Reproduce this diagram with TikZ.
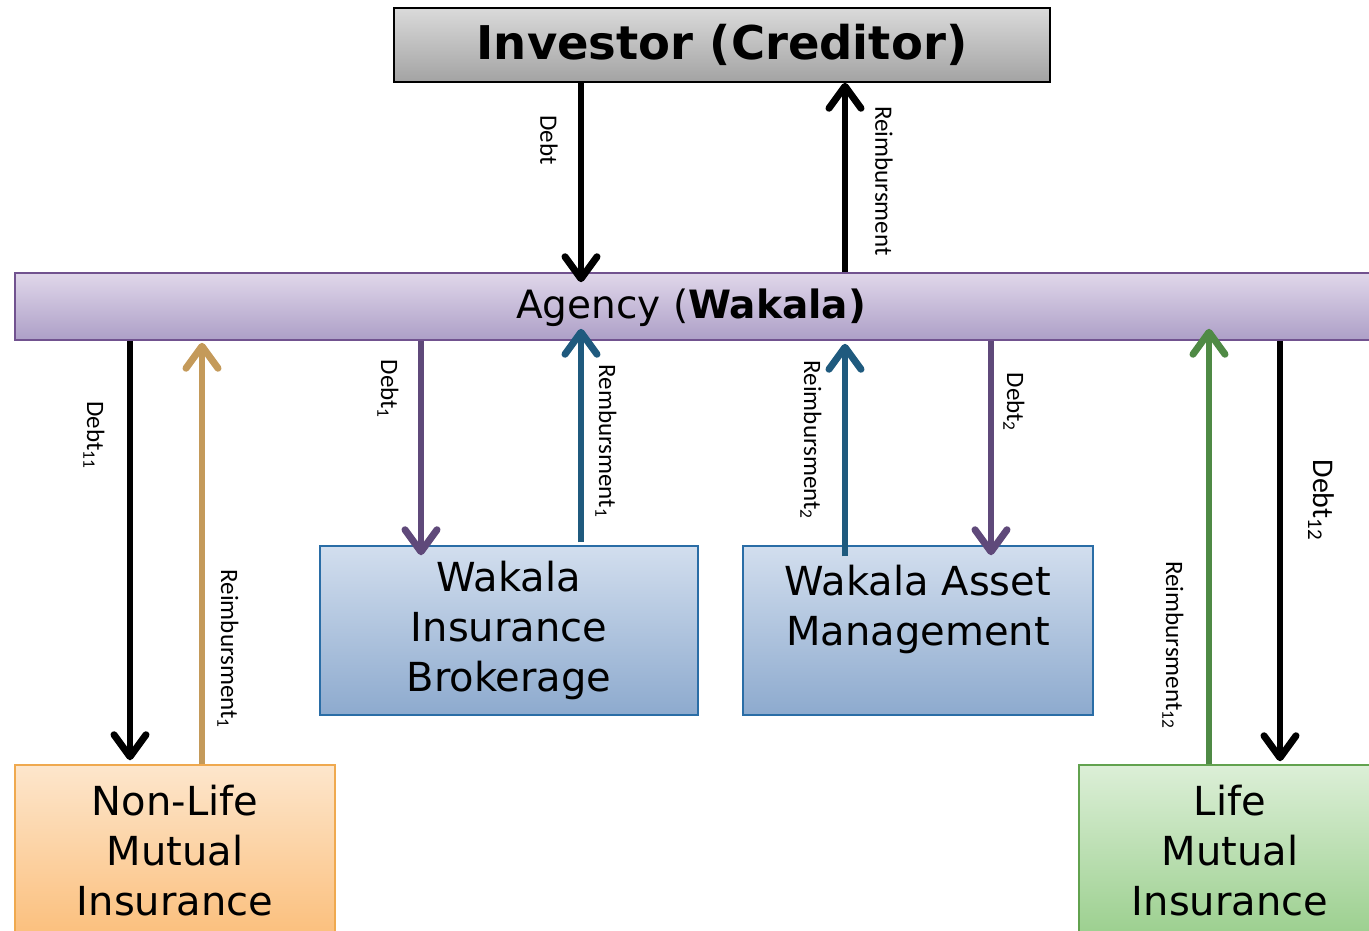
\documentclass[tikz,border=0pt]{standalone}
\usepackage{fontspec}
\setmainfont{DejaVu Sans}
\newfontfamily\lblfont{Carlito}
\usetikzlibrary{arrows.meta,calc}
\definecolor{invtop}{HTML}{DADADA}
\definecolor{invbot}{HTML}{A3A3A3}
\definecolor{agtop}{HTML}{E0D7EA}
\definecolor{agbot}{HTML}{AD9FC7}
\definecolor{agline}{HTML}{71528F}
\definecolor{bltop}{HTML}{D2DEEE}
\definecolor{blbot}{HTML}{8DAACE}
\definecolor{blline}{HTML}{2A6DA6}
\definecolor{ortop}{HTML}{FDE6CC}
\definecolor{orbot}{HTML}{FBBF7C}
\definecolor{orline}{HTML}{EFA94F}
\definecolor{grtop}{HTML}{DCEFD7}
\definecolor{grbot}{HTML}{9BCF8E}
\definecolor{grline}{HTML}{62A24F}
\definecolor{tanarr}{HTML}{C49A5A}
\definecolor{purarr}{HTML}{5F497A}
\definecolor{bluarr}{HTML}{1F5A7E}
\definecolor{grnarr}{HTML}{4F8A45}
\begin{document}
\begin{tikzpicture}[x=1pt,y=-1pt,
  box/.style={rectangle, inner sep=0pt, align=center, line width=1.5pt,
    font=\fontsize{40}{50}\selectfont},
  lbl/.style={rotate=-90, inner sep=0pt, font=\lblfont\fontsize{25}{30}\selectfont},
  arr/.style={line width=6.5pt, -{Straight Barb[length=22pt,width=32pt,line width=7pt,round]}}]
\useasboundingbox (0,0) rectangle (1369,931);
\clip (0,0) rectangle (1369,931);

% boxes
\node[box, draw=black, top color=invtop, bottom color=invbot,
  minimum width=656pt, minimum height=74pt,
  font=\bfseries\fontsize{46.5}{50}\selectfont] (inv) at (722,45) {Investor (Creditor)};
\node[box, draw=agline, top color=agtop, bottom color=agbot,
  minimum width=1365pt, minimum height=67pt] (ag) at (697.5,306.5) {};
\node[box, draw=blline, top color=bltop, bottom color=blbot,
  minimum width=378pt, minimum height=169pt] (wib) at (509,630.5) {Wakala\\Insurance\\Brokerage};
\node[box, draw=blline, top color=bltop, bottom color=blbot,
  minimum width=350pt, minimum height=169pt] (wam) at (918,630.5) {Wakala Asset\\Management\\\mbox{}};
\node[box, draw=orline, top color=ortop, bottom color=orbot,
  minimum width=320pt, minimum height=172pt] (nl) at (175,851) {Non-Life\\Mutual\\Insurance};
\node[box, draw=grline, top color=grtop, bottom color=grbot,
  minimum width=302pt, minimum height=172pt] (life) at (1230,851) {Life\\Mutual\\Insurance};

% arrows
\draw[arr, black] (inv.south -| 581,0) -- ($(ag.north -| 581,0)+(0,10)$);
\draw[arr, black] (ag.north -| 845,0) -- (inv.south -| 845,0);
\draw[arr, black] (ag.south -| 130,0) -- ($(nl.north -| 130,0)+(0,-4)$);
\draw[arr, tanarr, line width=5.5pt] (nl.north -| 202,0) -- ($(ag.south -| 202,0)+(0,2)$);
\draw[arr, purarr] (ag.south -| 421,0) -- ($(wib.north -| 421,0)+(0,10)$);
\draw[arr, bluarr] ($(wib.north -| 581,0)+(0,-3)$) -- ($(ag.south -| 581,0)+(0,-12)$);
\draw[arr, bluarr] ($(wam.north -| 845,0)+(0,11)$) -- ($(ag.south -| 845,0)+(0,3)$);
\draw[arr, purarr] (ag.south -| 991,0) -- ($(wam.north -| 991,0)+(0,10)$);
\draw[arr, grnarr] (life.north -| 1209,0) -- ($(ag.south -| 1209,0)+(0,-12)$);
\draw[arr, black] (ag.south -| 1280,0) -- ($(life.north -| 1280,0)+(0,-3)$);

% agency text
\node[inner sep=0pt, font=\fontsize{39}{48}\selectfont] (agtext) at (691,308) {Agency (\textbf{Wakala)}};

% labels
\node[lbl] (l1) at (549,140) {Debt};
\node[lbl] (l2) at (884,181) {Reimbursment};
\node[lbl] (l3) at (94,435) {Debt\textsubscript{11}};
\node[lbl] (l4) at (228,649) {Reimbursment\textsubscript{1}};
\node[lbl] (l5) at (388,389) {Debt\textsubscript{1}};
\node[lbl] (l6) at (606,441) {Rembursment\textsubscript{1}};
\node[lbl] (l7) at (811,440) {Reimbursment\textsubscript{2}};
\node[lbl] (l8) at (1014,402) {Debt\textsubscript{2}};
\node[lbl] (l9) at (1173,645) {Reimbursment\textsubscript{12}};
\node[lbl, font=\lblfont\fontsize{30}{36}\selectfont] (l10) at (1321,500) {Debt\textsubscript{12}};
\end{tikzpicture}
\end{document}
